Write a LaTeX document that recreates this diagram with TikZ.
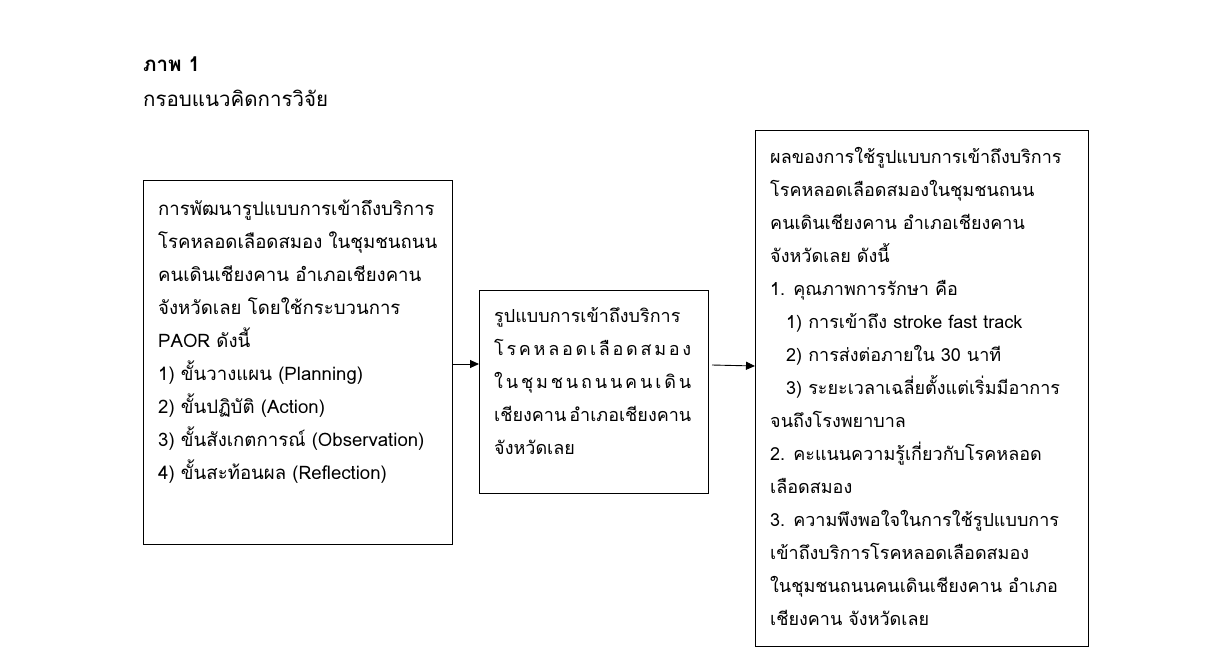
\documentclass[tikz,border=0pt]{standalone}
\usepackage{fontspec}
\newfontfamily\thai[Script=Thai]{Loma}
\usetikzlibrary{arrows.meta}
\newcommand{\spreadline}[2]{\hbox to #1{#2}}
\begin{document}
\begin{tikzpicture}[x=1pt,y=-1pt,
  box/.style={draw=black,line width=0.9pt,inner sep=0pt,anchor=north west},
  txt/.style={anchor=base west,inner sep=0pt,font=\thai\fontsize{18}{20}\selectfont,text=black},
  txta/.style={txt,font=\thai\fontsize{18.6}{20}\selectfont},
  title/.style={txt,font=\thai\fontsize{20.5}{22}\selectfont},
  conn/.style={draw=black,line width=0.9pt,-{Triangle[length=9pt,width=8pt]}}]
\useasboundingbox (0,0) rectangle (1223,666);
% title
\node[title,font=\thai\bfseries\fontsize{20.5}{22}\selectfont] (t1) at (143,72) {ภาพ 1};
\node[title] (t2) at (143,107) {กรอบแนวคิดการวิจัย};
% boxes
\node[box,minimum width=309pt,minimum height=364pt] (A) at (143,180) {};
\node[box,minimum width=229pt,minimum height=203pt] (B) at (479,290) {};
\node[box,minimum width=333pt,minimum height=516pt] (C) at (755,130) {};
% box A text
\foreach \t [count=\i] in {{การพัฒนารูปแบบการเข้าถึงบริการ},{โรคหลอดเลือดสมอง ในชุมชนถนน},{คนเดินเชียงคาน อำเภอเชียงคาน},{จังหวัดเลย โดยใช้กระบวนการ},{PAOR ดังนี้},{1) ขั้นวางแผน (Planning)},{2) ขั้นปฏิบัติ (Action)},{3) ขั้นสังเกตการณ์ (Observation)},{4) ขั้นสะท้อนผล (Reflection)}}
  \node[txta] (a\i) at (158,{215+33*(\i-1)}) {\t};
% box B text
\node[txt] (b1) at (494,322) {\spreadline{197pt}{รูปแบบการเข้าถึงบริการ\hfill}};
\node[txt] (b2) at (494,355) {\spreadline{197pt}{โ\hfill ร\hfill ค\hfill ห\hfill ล\hfill อ\hfill ด\hfill เ\hfill ลื\hfill อ\hfill ด\hfill ส\hfill ม\hfill อ\hfill ง}};
\node[txt] (b3) at (494,388) {\spreadline{197pt}{ใ\hfill น\hfill ชุ\hfill ม\hfill ช\hfill น\hfill ถ\hfill น\hfill น\hfill ค\hfill น\hfill เ\hfill ดิ\hfill น}};
\node[txt] (b4) at (494,421) {\spreadline{197pt}{เชียงคาน\hfill อำเภอเชียงคาน}};
\node[txt] (b5) at (494,454) {จังหวัดเลย};
% box C text
\foreach \t/\x [count=\i] in {{ผลของการใช้รูปแบบการเข้าถึงบริการ}/770,{โรคหลอดเลือดสมองในชุมชนถนน}/770,{คนเดินเชียงคาน อำเภอเชียงคาน}/770,{จังหวัดเลย ดังนี้}/770,{1. คุณภาพการรักษา คือ}/770,{1) การเข้าถึง stroke fast track}/786,{2) การส่งต่อภายใน 30 นาที}/786,{3) ระยะเวลาเฉลี่ยตั้งแต่เริ่มมีอาการ}/786,{จนถึงโรงพยาบาล}/770,{2. คะแนนความรู้เกี่ยวกับโรคหลอด}/770,{เลือดสมอง}/770,{3. ความพึงพอใจในการใช้รูปแบบการ}/770,{เข้าถึงบริการโรคหลอดเลือดสมอง}/770,{ในชุมชนถนนคนเดินเชียงคาน อำเภอ}/770,{เชียงคาน จังหวัดเลย}/770}
  \node[txt] (c\i) at (\x,{163+33*(\i-1)}) {\t};
% connectors
\coordinate (s2) at (712,365);
\draw[conn] (A.east |- 0,364) -- (B.west |- 0,364);
\draw[conn] (s2) -- (C.west |- 0,366);
\end{tikzpicture}
\end{document}
